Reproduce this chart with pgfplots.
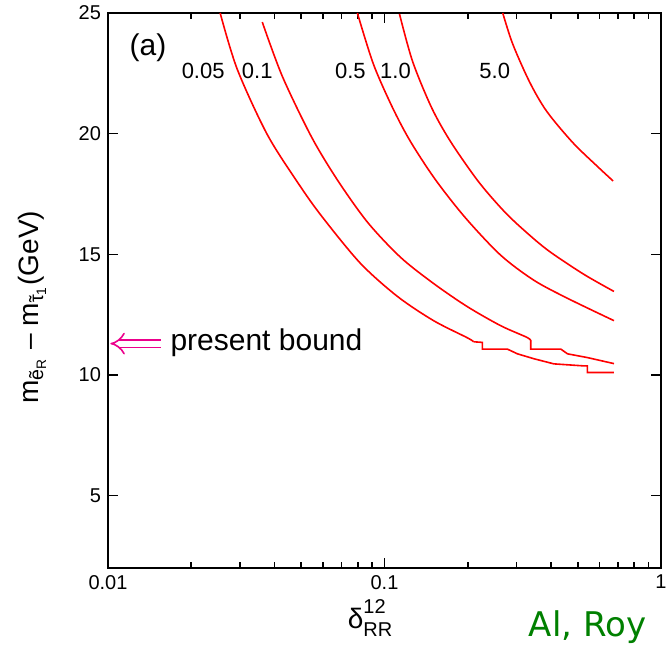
\documentclass[border=0pt]{standalone}
\usepackage{fontspec}
\setmainfont{Liberation Sans}
\newfontfamily\djv{DejaVu Sans}
\usepackage{pgfplots}
\pgfplotsset{compat=1.18}
\usetikzlibrary{arrows.meta}
\newcommand\tildetau{\ooalign{τ\cr\hidewidth ˜\hidewidth\cr}}

\pgfplotstableread{
x y
0.02545 25.0
0.02934 22.67
0.03769 19.96
0.0492 17.875
0.05963 16.54
0.08185 14.625
0.1115 13.25
0.1505 12.25
0.1994 11.54
0.2101 11.375
}\curveAs
\pgfplotstableread{
x y
0.2101 11.375
0.2259 11.35
0.2259 11.07
0.2784 11.07
0.3026 10.875
0.3475 10.67
0.4096 10.46
0.526 10.375
0.542 10.375
0.542 10.1
0.676 10.1
}\curveAt

\pgfplotstableread{
x y
0.03614 24.625
0.04271 22.375
0.05439 19.875
0.06757 18.08
0.0868 16.33
0.1143 14.875
0.1505 13.79
0.1994 12.83
0.2633 12.04
0.3297 11.54
0.3381 11.375
}\curveBs
\pgfplotstableread{
x y
0.3381 11.375
0.3381 11.07
0.4343 11.07
0.4592 10.875
0.542 10.72
0.676 10.47
}\curveBt

\pgfplotstableread{
x y
0.0798 25.0
0.09123 22.875
0.1069 21.08
0.1242 19.67
0.1531 18.08
0.1966 16.5
0.2633 14.96
0.3475 13.92
0.4603 13.17
0.676 12.25
}\curveC

\pgfplotstableread{
x y
0.1133 24.96
0.1263 23.0
0.1480 21.08
0.1734 19.67
0.2191 18.0
0.2745 16.71
0.3381 15.75
0.3994 15.08
0.526 14.17
0.676 13.46
}\curveD

\pgfplotstableread{
x y
0.2677 25.0
0.2910 23.71
0.3353 22.125
0.3864 20.92
0.4800 19.625
0.5910 18.625
0.6710 18.04
}\curveE

\begin{document}
\begin{tikzpicture}
\begin{axis}[
  scale only axis,
  width=276.5pt, height=277.5pt,
  xmode=log, xmin=0.01, xmax=1, ymin=2, ymax=25,
  xtick={0.01,0.1,1}, xticklabels={0.01,0.1,1},
  ytick={5,10,15,20,25}, yticklabels={5,10,15,20,25},
  tick align=inside,
  major tick length=5pt, minor tick length=3pt,
  every tick/.append style={black, line width=0.8pt},
  ticklabel style={font=\fontsize{10}{12}\selectfont},
  xlabel={\fontsize{14}{16}\selectfont δ\rlap{\raisebox{0.55em}{\fontsize{10}{12}\selectfont 12}}\raisebox{-0.3em}{\fontsize{10}{12}\selectfont RR}},
  every axis x label/.style={at={(axis description cs:0.474,-0.09)}, anchor=center},
  ylabel={\fontsize{14}{16}\selectfont m\textsubscript{\~e\textsubscript{R}} – m\textsubscript{\tildetau\textsubscript{1}}(GeV)},
  every axis y label/.style={at={(axis description cs:-0.137,0.47)}, rotate=90, anchor=center},
  clip mode=individual,
  axis line style={line width=0.8pt},
]
\addplot[red, line width=0.8pt, smooth, tension=0.5] table[x=x,y=y] {\curveAs};
\addplot[red, line width=0.8pt] table[x=x,y=y] {\curveAt};
\addplot[red, line width=0.8pt, smooth, tension=0.5] table[x=x,y=y] {\curveBs};
\addplot[red, line width=0.8pt] table[x=x,y=y] {\curveBt};
\addplot[red, line width=0.8pt, smooth, tension=0.5] table[x=x,y=y] {\curveC};
\addplot[red, line width=0.8pt, smooth, tension=0.5] table[x=x,y=y] {\curveD};
\addplot[red, line width=0.8pt, smooth, tension=0.5] table[x=x,y=y] {\curveE};

\node[font=\fontsize{11}{13}\selectfont] at (axis cs:0.02209,22.58) {0.05};
\node[font=\fontsize{11}{13}\selectfont] at (axis cs:0.03466,22.58) {0.1};
\node[font=\fontsize{11}{13}\selectfont] at (axis cs:0.07528,22.58) {0.5};
\node[font=\fontsize{11}{13}\selectfont] at (axis cs:0.1096,22.58) {1.0};
\node[font=\fontsize{11}{13}\selectfont] at (axis cs:0.2504,22.58) {5.0};
\node[font=\fontsize{15}{17}\selectfont] at (axis cs:0.01396,23.58) {(a)};
\node[font=\fontsize{15}{17}\selectfont, anchor=west, inner sep=0pt] at (axis cs:0.01678,11.35) {present bound};
\draw[magenta, line width=0.8pt, double, double distance=3pt, -{Implies}] (axis cs:0.0155,11.3) -- (axis cs:0.0102,11.3);
\node[font=\djv\fontsize{17}{19}\selectfont, text={rgb,255:red,0;green,128;blue,0}, anchor=base] at (axis description cs:0.867,-0.124) {Al, Roy};
\end{axis}
\pgfresetboundingbox
\path (-54pt,-42.5pt) rectangle (280.5pt,284pt);
\end{tikzpicture}
\end{document}
